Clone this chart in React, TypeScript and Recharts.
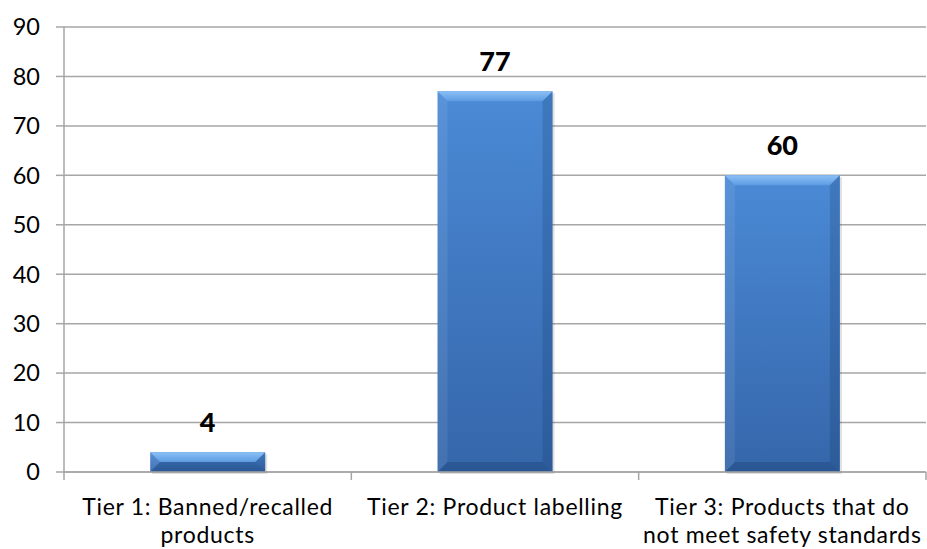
import { BarChart, Bar, XAxis, YAxis, CartesianGrid, LabelList } from 'recharts';

const categories = [
  'Tier 1: Banned/recalled products',
  'Tier 2: Product labelling',
  'Tier 3: Products that do not meet safety standards',
];
const counts = [4, 77, 60];
const tickLines = [
  ['Tier 1: Banned/recalled', 'products'],
  ['Tier 2: Product labelling'],
  ['Tier 3: Products that do', 'not meet safety standards'],
];
const yTicks = [0, 10, 20, 30, 40, 50, 60, 70, 80, 90];

const data = categories.map((name, i) => ({ name, count: counts[i] }));

const FONT = 'Lato, "Open Sans", sans-serif';
const GRID = '#a6a6a6';
const BAND = 862 / categories.length;

// Bar drawn with a bevelled, shaded look
function BevelBar(props: any) {
  const { x, y, width, height } = props;
  if (!height || height <= 0) return null;
  const b = Math.min(10, height / 2, width / 2);
  const r = x + width;
  const btm = y + height;
  return (
    <g>
      <rect x={x + 2} y={y + 2} width={width} height={height} fill="#000" opacity={0.12} />
      <rect x={x} y={y} width={width} height={height} fill="url(#barFill)" />
      <polygon
        points={`${x},${y} ${r},${y} ${r - b},${y + b} ${x + b},${y + b}`}
        fill="url(#topFill)"
      />
      <polygon
        points={`${x},${y} ${x + b},${y + b} ${x + b},${btm - b} ${x},${btm}`}
        fill="#ffffff"
        opacity={0.08}
      />
      <polygon
        points={`${r},${y} ${r - b},${y + b} ${r - b},${btm - b} ${r},${btm}`}
        fill="#0b2a55"
        opacity={0.18}
      />
      <polygon
        points={`${x},${btm} ${x + b},${btm - b} ${r - b},${btm - b} ${r},${btm}`}
        fill="#0b2a55"
        opacity={0.25}
      />
    </g>
  );
}

// Category label plus tick marks on the band edges
function CategoryTick(props: any) {
  const { x, y, index } = props;
  const lines = tickLines[index] || [];
  const last = index === tickLines.length - 1;
  return (
    <g transform={`translate(${x},${y})`}>
      <line x1={-BAND / 2} y1={-10} x2={-BAND / 2} y2={-2} stroke={GRID} strokeWidth={1.5} />
      {last && (
        <line x1={BAND / 2} y1={-10} x2={BAND / 2} y2={-2} stroke={GRID} strokeWidth={1.5} />
      )}
      {lines.map((line, i) => (
        <text
          key={i}
          x={0}
          y={33 + i * 28}
          textAnchor="middle"
          fontFamily={FONT}
          fontSize={23}
          letterSpacing={0.7}
          fill="#000"
        >
          {line}
        </text>
      ))}
    </g>
  );
}

export default function App() {
  return (
    <div style={{ position: 'absolute', left: 0, top: 0, background: '#fff' }}>
      <BarChart
        width={927}
        height={549}
        data={data}
        margin={{ top: 27, right: 1, left: 0, bottom: 0 }}
        barCategoryGap="30%"
      >
        <defs>
          <linearGradient id="barFill" x1="0" y1="0" x2="0" y2="1">
            <stop offset="0%" stopColor="#4b8ad6" />
            <stop offset="100%" stopColor="#3566aa" />
          </linearGradient>
          <linearGradient id="topFill" x1="0" y1="0" x2="0" y2="1">
            <stop offset="0%" stopColor="#8cc0f5" />
            <stop offset="100%" stopColor="#5c9be2" />
          </linearGradient>
        </defs>
        <CartesianGrid vertical={false} stroke={GRID} strokeWidth={1.5} />
        <XAxis
          dataKey="name"
          height={77}
          interval={0}
          stroke={GRID}
          strokeWidth={1.5}
          tickSize={8}
          tick={<CategoryTick />}
          tickLine={false}
        />
        <YAxis
          domain={[0, 90]}
          ticks={yTicks}
          width={64}
          stroke={GRID}
          strokeWidth={1.5}
          tickSize={8}
          tickMargin={16}
          tick={{ fontFamily: FONT, fontSize: 23.5, fill: '#000' }}
        />
        <Bar dataKey="count" shape={<BevelBar />} isAnimationActive={false}>
          <LabelList
            dataKey="count"
            position="top"
            offset={20}
            fontFamily={FONT}
            fontSize={27}
            fontWeight={900}
            fill="#000"
          />
        </Bar>
      </BarChart>
    </div>
  );
}
